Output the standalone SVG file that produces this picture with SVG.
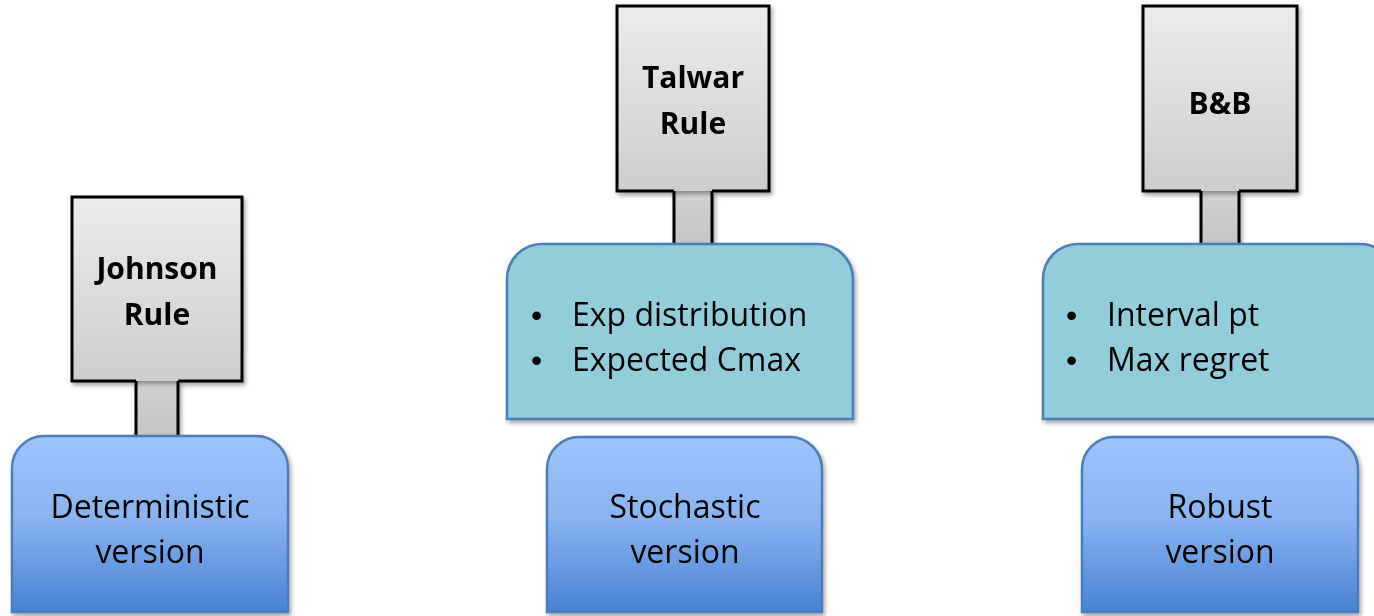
<svg xmlns="http://www.w3.org/2000/svg" width="1374" height="616" viewBox="0 0 1374 616">
  <defs>
    <linearGradient id="grayFill" x1="0" y1="0" x2="0" y2="1">
      <stop offset="0" stop-color="#ececec"/>
      <stop offset="1" stop-color="#cdcdcd"/>
    </linearGradient>
    <linearGradient id="stemFill" x1="0" y1="0" x2="0" y2="1">
      <stop offset="0" stop-color="#d2d2d2"/>
      <stop offset="1" stop-color="#c4c4c4"/>
    </linearGradient>
    <linearGradient id="blueFill" x1="0" y1="0" x2="0" y2="1">
      <stop offset="0" stop-color="#9dc3fc"/>
      <stop offset="0.45" stop-color="#8ab5f2"/>
      <stop offset="1" stop-color="#4783d2"/>
    </linearGradient>
    <filter id="shadow" x="-10%" y="-10%" width="125%" height="125%">
      <feDropShadow dx="2" dy="3" stdDeviation="2" flood-color="#000" flood-opacity="0.35"/>
    </filter>
  </defs>
  <style>
    .label { fill: url(#grayFill); stroke: #000; stroke-width: 3; stroke-linejoin: miter; }
    .stem { fill: url(#stemFill); stroke: none; }
    .stemEdge { stroke: #000; stroke-width: 3; fill: none; }
    .detail { fill: #92cddc; stroke: #4a7ebb; stroke-width: 2.5; }
    .version { fill: url(#blueFill); stroke: #4a7ebb; stroke-width: 2.5; }
    text { font-family: "Open Sans", "Liberation Sans", sans-serif; fill: #000; }
    .title { font-size: 30px; font-weight: bold; text-anchor: middle; }
    .body { font-size: 32px; }
    .bullet { font-family: "Liberation Sans", sans-serif; font-size: 32px; }
    .center { text-anchor: middle; }
  </style>

  <!-- stems joining each rule label to the box beneath it -->
  <g id="connectors" filter="url(#shadow)">
    <rect class="stem" x="136" y="380" width="42" height="57"/>
    <path class="stemEdge" d="M136,380 V437 M178,380 V437"/>
    <rect class="stem" x="674" y="190" width="38" height="55"/>
    <path class="stemEdge" d="M674,190 V245 M712,190 V245"/>
    <rect class="stem" x="1201" y="190" width="38" height="55"/>
    <path class="stemEdge" d="M1201,190 V245 M1239,190 V245"/>
  </g>

  <!-- deterministic column -->
  <g id="johnson-rule" filter="url(#shadow)">
    <path class="label" d="M136,381 H72 V197 H242 V381 H178"/>
    <text class="title" x="157" y="279">Johnson</text>
    <text class="title" x="157" y="325">Rule</text>
  </g>
  <g id="deterministic-version" filter="url(#shadow)">
    <path class="version" d="M12,612 V468 A32,32 0 0 1 44,436 H256 A32,32 0 0 1 288,468 V612 Z"/>
    <text class="body center" x="150" y="518">Deterministic</text>
    <text class="body center" x="150" y="563">version</text>
  </g>

  <!-- stochastic column -->
  <g id="talwar-rule" filter="url(#shadow)">
    <path class="label" d="M674,191 H617 V6 H769 V191 H712"/>
    <text class="title" x="693" y="88">Talwar</text>
    <text class="title" x="693" y="134">Rule</text>
  </g>
  <g id="stochastic-details" filter="url(#shadow)">
    <path class="detail" d="M507,419 V279 A35,35 0 0 1 542,244 H818 A35,35 0 0 1 853,279 V419 Z"/>
    <text class="bullet" x="531" y="326">•</text>
    <text class="body" x="572" y="326">Exp distribution</text>
    <text class="bullet" x="531" y="371">•</text>
    <text class="body" x="572" y="371">Expected Cmax</text>
  </g>
  <g id="stochastic-version" filter="url(#shadow)">
    <path class="version" d="M547,612 V469 A32,32 0 0 1 579,437 H790 A32,32 0 0 1 822,469 V612 Z"/>
    <text class="body center" x="685" y="518">Stochastic</text>
    <text class="body center" x="685" y="563">version</text>
  </g>

  <!-- robust column -->
  <g id="bb-rule" filter="url(#shadow)">
    <path class="label" d="M1201,191 H1143 V6 H1297 V191 H1239"/>
    <text class="title" x="1220" y="114">B&amp;B</text>
  </g>
  <g id="robust-details" filter="url(#shadow)">
    <path class="detail" d="M1043,419 V279 A35,35 0 0 1 1078,244 H1360 A35,35 0 0 1 1395,279 V419 Z"/>
    <text class="bullet" x="1066" y="326">•</text>
    <text class="body" x="1107" y="326">Interval pt</text>
    <text class="bullet" x="1066" y="371">•</text>
    <text class="body" x="1107" y="371">Max regret</text>
  </g>
  <g id="robust-version" filter="url(#shadow)">
    <path class="version" d="M1082,612 V469 A32,32 0 0 1 1114,437 H1326 A32,32 0 0 1 1358,469 V612 Z"/>
    <text class="body center" x="1220" y="518">Robust</text>
    <text class="body center" x="1220" y="563">version</text>
  </g>
</svg>
